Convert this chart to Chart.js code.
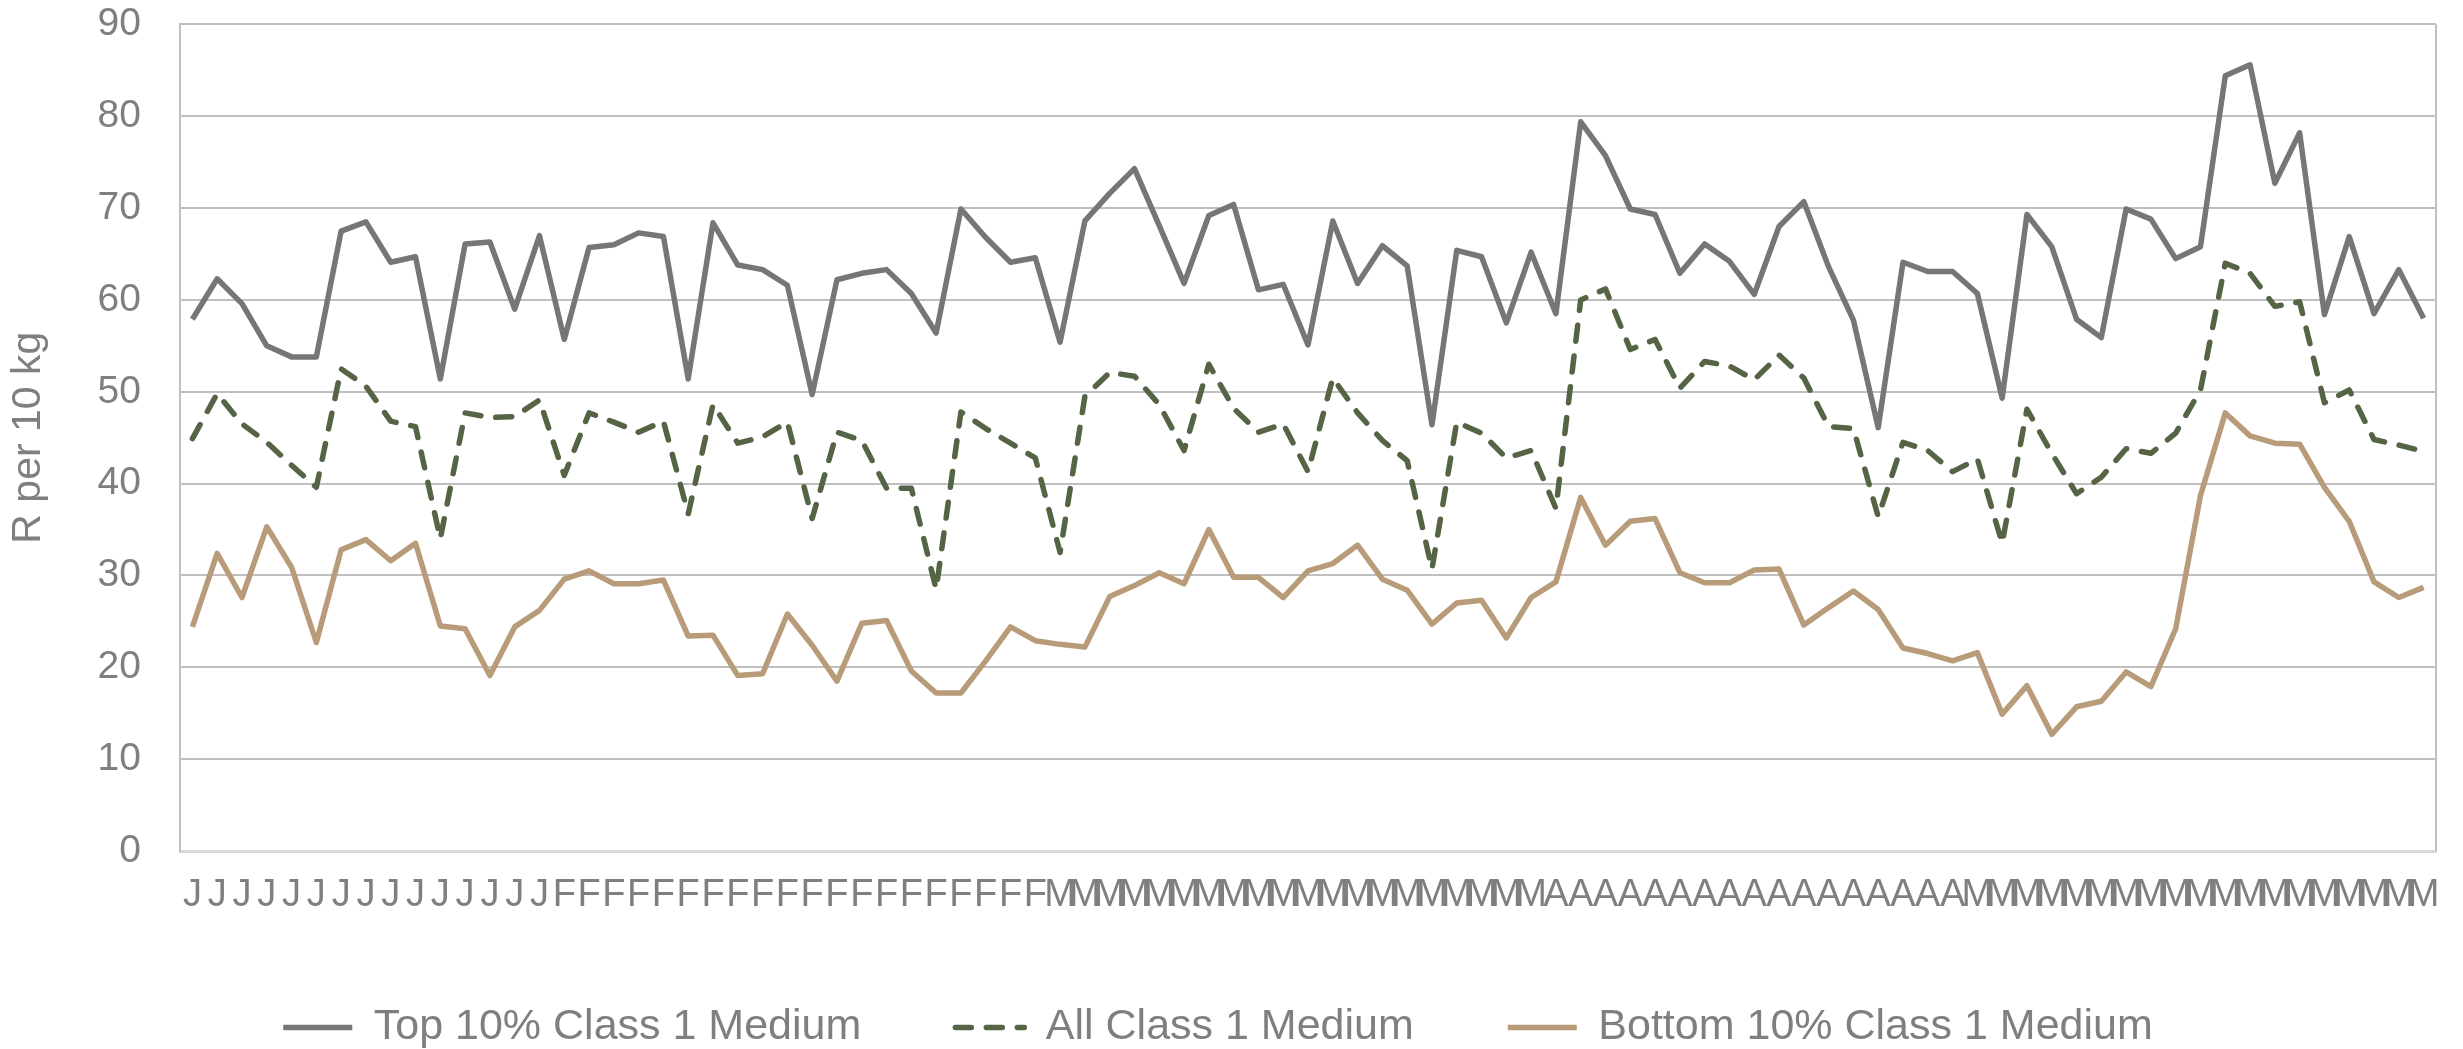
<!DOCTYPE html>
<html>
<head>
<meta charset="utf-8">
<script src="https://cdn.jsdelivr.net/npm/chart.js@4"></script>
<style>
  html, body { margin: 0; padding: 0; background: #fff; }
  canvas { display: block; }
</style>
</head>
<body>
<canvas id="myChart" width="2463" height="1049"></canvas>
<script>
// one letter per trading day: Jan, Feb, Mar, Apr, May
const categories = [
    'J','J','J','J','J','J','J','J','J','J','J','J','J','J','J',
    'F','F','F','F','F','F','F','F','F','F','F','F','F','F','F','F','F','F','F','F',
    'M','M','M','M','M','M','M','M','M','M','M','M','M','M','M','M','M','M','M','M',
    'A','A','A','A','A','A','A','A','A','A','A','A','A','A','A','A','A',
    'M','M','M','M','M','M','M','M','M','M','M','M','M','M','M','M','M','M','M'
];

const seriesNames = ['Top 10% Class 1 Medium', 'All Class 1 Medium', 'Bottom 10% Class 1 Medium'];

const top10 = [
    57.9, 62.3, 59.6, 55.0, 53.8, 53.8, 67.5, 68.5, 64.1, 64.7, 51.4, 66.1, 66.3, 59.0, 67.0,
    55.7, 65.7, 66.0, 67.3, 66.9, 51.4, 68.4, 63.8, 63.3, 61.6, 49.7, 62.2, 62.9, 63.3, 60.7,
    56.4, 69.9, 66.8, 64.1, 64.6, 55.4, 68.6, 71.6, 74.3, 68.1, 61.8, 69.2, 70.4, 61.1, 61.7,
    55.1, 68.6, 61.8, 65.9, 63.7, 46.4, 65.4, 64.7, 57.5, 65.2, 58.5, 79.4, 75.7, 69.9, 69.3,
    62.9, 66.1, 64.2, 60.6, 68.0, 70.7, 63.6, 57.8, 46.1, 64.1, 63.1, 63.1, 60.7, 49.3, 69.3,
    65.8, 57.9, 55.9, 69.9, 68.8, 64.5, 65.8, 84.4, 85.6, 72.7, 78.2, 58.4, 66.9, 58.5, 63.3,
    58.0
];

const allClass1 = [
    44.9, 49.8, 46.5, 44.5, 42.0, 39.6, 52.5, 50.6, 46.8, 46.2, 34.0, 47.7, 47.2, 47.3, 49.1,
    40.9, 47.7, 46.7, 45.6, 46.8, 36.7, 48.6, 44.4, 45.1, 46.7, 36.2, 45.6, 44.7, 39.5, 39.5,
    28.5, 47.8, 46.0, 44.4, 42.8, 32.5, 49.5, 52.1, 51.7, 48.6, 43.6, 53.0, 48.2, 45.6, 46.5,
    41.3, 51.5, 47.7, 44.7, 42.5, 30.7, 46.7, 45.5, 42.8, 43.6, 37.3, 60.0, 61.2, 54.6, 55.7,
    50.4, 53.3, 52.8, 51.3, 54.0, 51.5, 46.2, 46.0, 36.4, 44.5, 43.6, 41.3, 42.7, 33.5, 48.1,
    43.3, 38.9, 40.7, 43.8, 43.3, 45.5, 50.2, 64.0, 62.9, 59.3, 59.8, 48.8, 50.2, 44.8, 44.2,
    43.5
];

const bottom10 = [
    24.4, 32.4, 27.6, 35.3, 30.9, 22.7, 32.8, 33.9, 31.6, 33.5, 24.5, 24.2, 19.1, 24.4, 26.2,
    29.6, 30.5, 29.1, 29.1, 29.5, 23.4, 23.5, 19.1, 19.3, 25.8, 22.4, 18.5, 24.8, 25.1, 19.6,
    17.2, 17.2, 20.7, 24.4, 22.9, 22.5, 22.2, 27.7, 28.9, 30.3, 29.1, 35.0, 29.8, 29.8, 27.6,
    30.5, 31.3, 33.3, 29.6, 28.4, 24.7, 27.0, 27.3, 23.2, 27.6, 29.3, 38.5, 33.3, 35.9, 36.2,
    30.3, 29.2, 29.2, 30.6, 30.7, 24.6, 26.5, 28.3, 26.3, 22.1, 21.5, 20.7, 21.6, 14.9, 18.0,
    12.7, 15.7, 16.3, 19.5, 17.9, 24.2, 38.7, 47.7, 45.2, 44.4, 44.3, 39.6, 35.9, 29.3, 27.6,
    28.7
];

const textGrey = '#7f7f7f';
const gridGrey = '#bfbfbf';
const fontFamily = "'Liberation Sans', Arial, sans-serif";

//right-hand edge of the plot frame
const plotFrame = {
    id: 'plotFrame',
    beforeDatasetsDraw(chart) {
        const { ctx, chartArea } = chart;
        ctx.save();
        ctx.strokeStyle = gridGrey;
        ctx.lineWidth = 2;
        ctx.beginPath();
        ctx.moveTo(chartArea.right, chartArea.top);
        ctx.lineTo(chartArea.right, chartArea.bottom);
        ctx.stroke();
        ctx.restore();
    }
};

const ctx = document.getElementById('myChart').getContext('2d');
const myChart = new Chart(ctx, {
    type: 'line',
    data: {
        labels: categories,
        datasets: [{
            label: seriesNames[0],
            data: top10,
            borderColor: '#767676',
            backgroundColor: '#767676',
            borderWidth: 5.5,
            borderJoinStyle: 'round',
            pointRadius: 0,
            tension: 0
        }, {
            label: seriesNames[1],
            data: allClass1,
            borderColor: '#566446',
            backgroundColor: '#566446',
            borderWidth: 5.5,
            borderDash: [16, 15],
            borderCapStyle: 'round',
            borderJoinStyle: 'round',
            pointRadius: 0,
            tension: 0
        }, {
            label: seriesNames[2],
            data: bottom10,
            borderColor: '#b89c7a',
            backgroundColor: '#b89c7a',
            borderWidth: 5.5,
            borderJoinStyle: 'round',
            pointRadius: 0,
            tension: 0
        }]
    },
    options: {
        responsive: false,
        animation: false,
        devicePixelRatio: 1,
        layout: {
            padding: { left: 0, right: 27, top: 0, bottom: -10 }
        },
        plugins: {
            legend: {
                position: 'bottom',
                labels: {
                    usePointStyle: true,
                    pointStyle: 'line',
                    pointStyleWidth: 69,
                    padding: 94,
                    color: textGrey,
                    font: { family: fontFamily, size: 43 },
                    //legend samples take the line's own width and dash
                    generateLabels: (chart) => {
                        const items = Chart.defaults.plugins.legend.labels.generateLabels(chart);
                        items.forEach(item => {
                            const ds = chart.data.datasets[item.datasetIndex];
                            item.lineWidth = ds.borderWidth;
                            item.lineDash = ds.borderDash || [];
                            item.lineCap = ds.borderCapStyle || 'butt';
                            item.strokeStyle = ds.borderColor;
                        });
                        return items;
                    }
                }
            },
            tooltip: { enabled: false }
        },
        scales: {
            x: {
                offset: true,
                grid: { display: false, drawTicks: false },
                border: { color: '#d9d9d9', width: 3 },
                ticks: {
                    autoSkip: false,
                    maxRotation: 0,
                    minRotation: 0,
                    padding: 22,
                    color: textGrey,
                    font: { family: fontFamily, size: 38 }
                },
                afterFit: (scale) => {
                    scale.height = 61;
                }
            },
            y: {
                min: 0,
                max: 90,
                ticks: {
                    stepSize: 10,
                    padding: 1,
                    color: textGrey,
                    font: { family: fontFamily, size: 39 }
                },
                // invisible tick marks keep the labels clear of the axis
                grid: { color: gridGrey, lineWidth: 2, drawTicks: true, tickLength: 38, tickColor: 'rgba(0,0,0,0)' },
                border: { color: gridGrey, width: 2 },
                title: {
                    display: true,
                    text: 'R per 10 kg',
                    color: textGrey,
                    font: { family: fontFamily, size: 41 },
                    padding: { top: 4, bottom: 0 }
                },
                afterFit: (scale) => {
                    scale.width = 180;
                }
            }
        }
    },
    plugins: [plotFrame]
});
</script>
</body>
</html>
